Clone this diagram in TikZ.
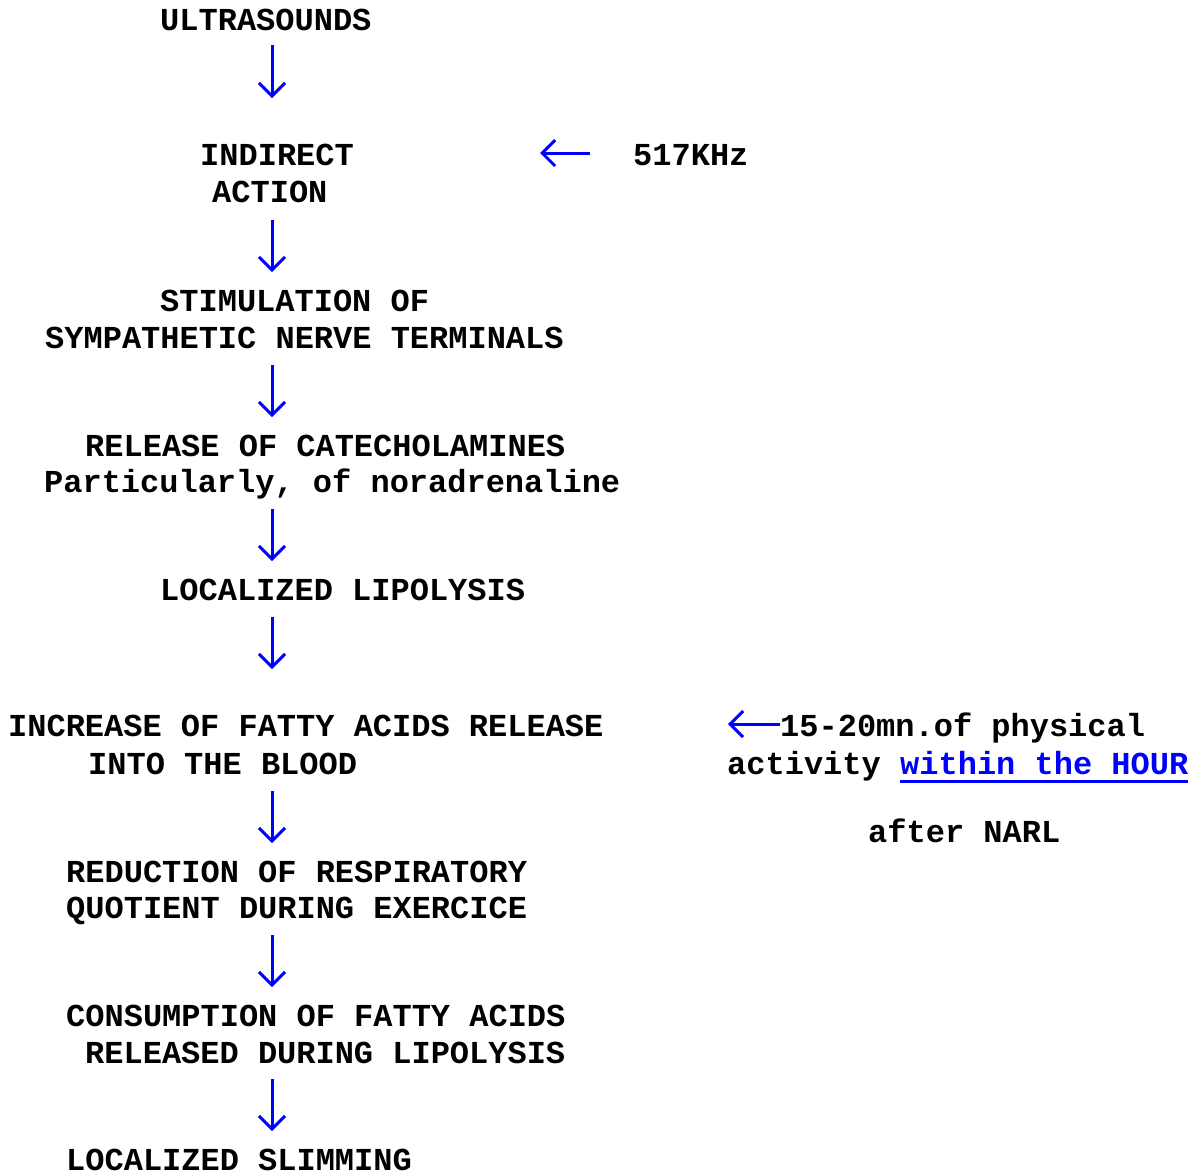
\documentclass[tikz,border=0pt]{standalone}
\usepackage{fontspec}
\newfontfamily\courfont{Liberation Mono}
\usetikzlibrary{arrows.meta}
\begin{document}
\begin{tikzpicture}[x=1pt,y=-1pt,
              line/.style={anchor=base west,inner sep=0pt,font=\courfont\bfseries\fontsize{32}{37}\selectfont},
              flow/.style={-{Straight Barb[length=13pt,width=26pt,line width=3pt]},draw=blue,line width=3pt}]
\useasboundingbox (0,0) rectangle (1203,1173);
    % main chain
    \node [line] (ultra) at (160,30) {ULTRASOUNDS};
    \node [line] (ind1) at (200,165) {INDIRECT};
    \node [line] (ind2) at (212,202) {ACTION};
    \node [line] (stim1) at (160,311) {STIMULATION OF};
    \node [line] (stim2) at (45,348) {SYMPATHETIC NERVE TERMINALS};
    \node [line] (rel1) at (85,456) {RELEASE OF CATECHOLAMINES};
    \node [line] (rel2) at (44,492) {Particularly, of noradrenaline};
    \node [line] (lipo) at (160,600) {LOCALIZED LIPOLYSIS};
    \node [line] (inc1) at (8,736) {INCREASE OF FATTY ACIDS RELEASE};
    \node [line] (inc2) at (88,774) {INTO THE BLOOD};
    \node [line] (red1) at (66,882) {REDUCTION OF RESPIRATORY};
    \node [line] (red2) at (66,918) {QUOTIENT DURING EXERCICE};
    \node [line] (cons1) at (66,1026) {CONSUMPTION OF FATTY ACIDS};
    \node [line] (cons2) at (85,1063) {RELEASED DURING LIPOLYSIS};
    \node [line] (slim) at (66,1170) {LOCALIZED SLIMMING};
    % side notes
    \node [line] (freq) at (633,165) {517KHz};
    \node [line] (act1) at (780,736) {15-20mn.of physical};
    \node [line] (act2) at (727,774) {activity};
    \node [line,text=blue] (hour) at (900,774) {within the HOUR};
    \node [line] (narl) at (868,842) {after NARL};
    \draw [blue,line width=3pt] ([yshift=-7pt]hour.base west) -- ([yshift=-7pt]hour.base east);
    % arrows
    \foreach \i/\ya/\yb in {1/45/98,2/220/272,3/365/417,4/509/561,5/617/669,6/791/843,7/935/987,8/1079/1131} {
        \coordinate (s\i) at (272,\ya);
        \coordinate (e\i) at (272,\yb);
        \draw [flow] (s\i) -- (e\i);
    }
    \coordinate (f1) at (590,153);
    \coordinate (f2) at (540,153);
    \draw [flow] (f1) -- (f2);
    \coordinate (g1) at (act1.west |- 0,724);
    \coordinate (g2) at (728,724);
    \draw [flow] (g1) -- (g2);
\end{tikzpicture}
\end{document}
